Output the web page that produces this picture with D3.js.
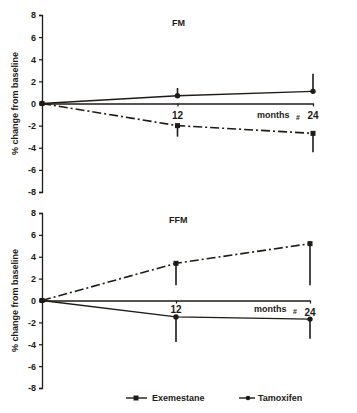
<!DOCTYPE html>
<html><head><meta charset="utf-8">
<script src="https://cdn.jsdelivr.net/npm/d3@7"></script>
<style>body{margin:0;background:#fff}svg{display:block}text{font-family:"Liberation Sans",Arial,sans-serif;font-weight:bold;fill:#1e1a16}</style>
</head><body><svg id="c" width="357" height="413"></svg>
<script>
const months = [0, 12, 24];
const yTicks = [-8, -6, -4, -2, 0, 2, 4, 6, 8];
const xTickLabels = ["12", "24"];
// FM panel
const fmExemestane = [0, -2.0, -2.7];
const fmExemestaneErr = [0, -1.0, -1.7];
const fmTamoxifen = [0, 0.7, 1.1];
const fmTamoxifenErr = [0, 0.7, 1.6];
// FFM panel
const ffmExemestane = [0, 3.4, 5.2];
const ffmExemestaneErr = [0, -2.0, -3.8];
const ffmTamoxifen = [0, -1.5, -1.7];
const ffmTamoxifenErr = [0, -2.3, -1.8];

const col = "#1e1a16";
const svg = d3.select("#c");

function panel(cfg) {
  const x = d3.scaleLinear().domain([0, 24]).range([cfg.x0, cfg.x1]);
  const y = d3.scaleLinear().domain([-8, 8]).range([cfg.yb, cfg.yt]);
  const g = svg.append("g");
  // y axis
  const ya = g.append("g").attr("transform", `translate(${cfg.x0},0)`)
    .call(d3.axisLeft(y).tickValues(yTicks).tickSize(3).tickPadding(3).tickFormat(d => String(d)));
  ya.select(".domain").attr("stroke", col).attr("stroke-width", 1.3);
  ya.selectAll("line").attr("stroke", col).attr("stroke-width", 1.2);
  ya.selectAll("text").style("font-size", "9px").style("font-family", '"Liberation Sans",Arial,sans-serif').style("font-weight", "bold").attr("fill", col);
  // x axis at 0
  const xa = g.append("g").attr("transform", `translate(0,${y(0)})`)
    .call(d3.axisBottom(x).tickValues([12, 24]).tickSize(3).tickSizeOuter(0).tickFormat(""));
  xa.select(".domain").attr("stroke", col).attr("stroke-width", 1.3);
  xa.selectAll("line").attr("stroke", col).attr("stroke-width", 1.2);
  // x tick labels
  g.append("text").attr("x", x(12)).attr("y", y(0) + cfg.lab12).attr("text-anchor", "middle").style("font-size", "10px").text(xTickLabels[0]);
  g.append("text").attr("x", x(24)).attr("y", y(0) + cfg.lab24).attr("text-anchor", "middle").style("font-size", "10px").text(xTickLabels[1]);
  g.append("text").attr("x", x(24) - 56).attr("y", y(0) + cfg.labM).style("font-size", "9px").text("months");
  g.append("text").attr("x", x(24) - 17).attr("y", y(0) + cfg.labM + 2).style("font-size", "7px").text("#");
  // title
  g.append("text").attr("x", cfg.tx).attr("y", cfg.ty).style("font-size", "9px").text(cfg.title);
  // y label
  g.append("text").attr("transform", `translate(18,${y(0)}) rotate(-90)`).attr("text-anchor", "middle").style("font-size", "9px").text("% change from baseline");

  const line = d3.line().x((d, i) => x(months[i])).y(d => y(d));
  // series
  cfg.series.forEach(s => {
    // error bars
    s.vals.forEach((v, i) => {
      if (i === 0) return;
      g.append("line").attr("x1", x(months[i])).attr("x2", x(months[i]))
        .attr("y1", y(v)).attr("y2", y(v + s.err[i])).attr("stroke", col).attr("stroke-width", 1.6);
    });
    g.append("path").datum(s.vals).attr("d", line).attr("fill", "none").attr("stroke", col)
      .attr("stroke-width", s.dash ? 1.6 : 1.4).attr("stroke-dasharray", s.dash ? "9,3,2,3" : null);
    s.vals.forEach((v, i) => {
      if (s.shape === "square") {
        g.append("rect").attr("x", x(months[i]) - 2.5).attr("y", y(v) - 2.5).attr("width", 5).attr("height", 5).attr("fill", col);
      } else {
        g.append("circle").attr("cx", x(months[i])).attr("cy", y(v)).attr("r", 2.7).attr("fill", col);
      }
    });
  });
}

panel({x0: 42, x1: 313, yt: 15, yb: 192, title: "FM", tx: 172, ty: 26, lab12: 15, lab24: 15, labM: 14,
  series: [
    {vals: fmExemestane, err: fmExemestaneErr, shape: "square", dash: true},
    {vals: fmTamoxifen, err: fmTamoxifenErr, shape: "circle", dash: false}
  ]});
panel({x0: 42, x1: 310, yt: 213, yb: 388, title: "FFM", tx: 169, ty: 223, lab12: 12, lab24: 15, labM: 11,
  series: [
    {vals: ffmExemestane, err: ffmExemestaneErr, shape: "square", dash: true},
    {vals: ffmTamoxifen, err: ffmTamoxifenErr, shape: "circle", dash: false}
  ]});

// legend
const lg = svg.append("g");
lg.append("line").attr("x1", 126).attr("x2", 147).attr("y1", 398).attr("y2", 398).attr("stroke", col).attr("stroke-width", 1.4);
lg.append("rect").attr("x", 133.5).attr("y", 395.5).attr("width", 5).attr("height", 5).attr("fill", col);
lg.append("text").attr("x", 152).attr("y", 401).style("font-size", "9px").text("Exemestane");
lg.append("line").attr("x1", 239).attr("x2", 255).attr("y1", 398).attr("y2", 398).attr("stroke", col).attr("stroke-width", 1.4);
lg.append("circle").attr("cx", 248).attr("cy", 398).attr("r", 2.3).attr("fill", col);
lg.append("text").attr("x", 258).attr("y", 401).style("font-size", "9px").text("Tamoxifen");
</script></body></html>
